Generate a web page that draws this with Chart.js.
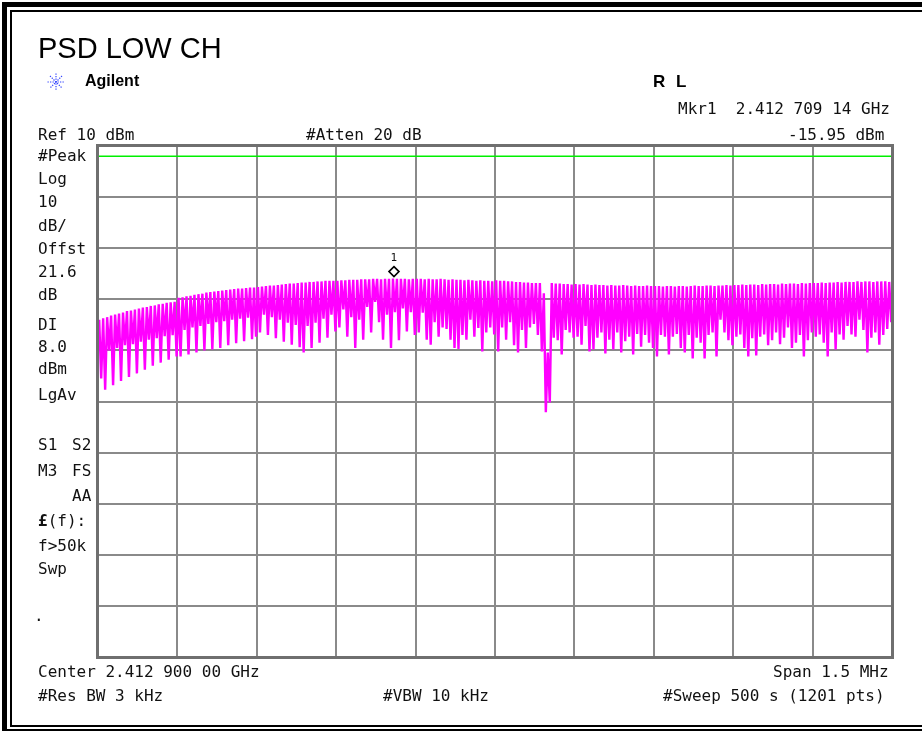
<!DOCTYPE html>
<html><head><meta charset="utf-8">
<script src="https://cdn.jsdelivr.net/npm/chart.js@4/dist/chart.umd.min.js"></script>
<style>
html,body{margin:0;padding:0;background:#fff;overflow:hidden;}
#wrap{position:relative;width:922px;height:731px;overflow:hidden;background:#fff;}
#c{position:absolute;left:0;top:0;}
.fo{position:absolute;left:2px;top:2px;width:960px;height:732px;border:5px solid #000;box-sizing:border-box;}
.fi{position:absolute;left:10px;top:10px;width:960px;height:717px;border:2px solid #000;box-sizing:border-box;}
.m{position:absolute;font-family:"DejaVu Sans Mono",monospace;font-size:16px;line-height:16px;white-space:pre;color:#111;}
.s{position:absolute;font-family:"Liberation Sans",Arial,sans-serif;white-space:pre;color:#000;}
</style>
</head><body>
<div id="wrap">
<div class="fo"></div><div class="fi"></div>
<canvas id="c" width="922" height="731"></canvas>
<div id="txt"></div>
<svg style="position:absolute;left:47px;top:73px" width="18" height="18" viewBox="0 0 18 18">
<g stroke="#3344ff" stroke-width="1.2" stroke-dasharray="1.3 1.2" fill="none">
<line x1="9" y1="0.5" x2="9" y2="17.5"/><line x1="0.5" y1="9" x2="17.5" y2="9"/>
<line x1="3" y1="3" x2="15" y2="15"/><line x1="15" y1="3" x2="3" y2="15"/>
</g></svg>
</div>
<script>
// ---- data ----
const centerGHz = 2.4129;
const spanKHz = 1500;
const refLevel = 10;          // dBm, top of grid
const dbPerDiv = 10;
const displayLine = 8.0;      // dBm
const markerFreqGHz = 2.41270914;
const markerLevel = -15.95;

// peak level of each comb line (dBm), 20 per division
const peakLevels = [
 -24.0,-23.7,-23.5,-23.2,-23.0,-22.8,-22.6,-22.3,-22.2,-22.0,-21.8,-21.6,-21.5,-21.3,-21.2,-21.0,-20.9,-20.7,-20.6,-20.5,
 -19.7,-19.6,-19.4,-19.3,-19.1,-19.0,-18.9,-18.7,-18.6,-18.5,-18.4,-18.3,-18.2,-18.1,-18.0,-17.9,-17.9,-17.8,-17.7,-17.7,
 -17.6,-17.5,-17.4,-17.3,-17.3,-17.2,-17.1,-17.0,-16.9,-16.9,-16.8,-16.7,-16.7,-16.6,-16.6,-16.5,-16.5,-16.4,-16.4,-16.4,
 -16.4,-16.3,-16.3,-16.2,-16.2,-16.2,-16.1,-16.1,-16.1,-16.0,-16.0,-16.1,-16.0,-16.0,-15.95,-16.0,-16.0,-16.0,-16.1,-16.0,
 -16.0,-16.0,-16.1,-16.0,-16.1,-16.1,-16.0,-16.1,-16.2,-16.1,-16.2,-16.2,-16.3,-16.2,-16.3,-16.4,-16.3,-16.4,-16.4,-16.5,
 -16.3,-16.4,-16.4,-16.5,-16.5,-16.6,-16.6,-16.7,-16.7,-16.8,-16.8,-16.8,-18.8,-30.4,-16.8,-16.9,-16.9,-17.0,-17.0,-17.1,
 -17.0,-17.1,-17.0,-17.1,-17.2,-17.1,-17.2,-17.2,-17.3,-17.2,-17.3,-17.3,-17.2,-17.3,-17.4,-17.3,-17.4,-17.4,-17.3,-17.4,
 -17.4,-17.4,-17.5,-17.4,-17.4,-17.5,-17.4,-17.4,-17.5,-17.4,-17.3,-17.4,-17.4,-17.3,-17.3,-17.4,-17.3,-17.3,-17.2,-17.3,
 -17.2,-17.2,-17.1,-17.2,-17.1,-17.1,-17.2,-17.0,-17.1,-17.0,-17.0,-17.1,-16.9,-17.0,-16.9,-16.9,-17.0,-16.8,-16.9,-16.8,
 -16.8,-16.8,-16.7,-16.8,-16.7,-16.7,-16.6,-16.7,-16.6,-16.6,-16.6,-16.5,-16.6,-16.5,-16.5,-16.6,-16.5,-16.5,-16.5,-16.6
];
// valley level after each comb line (dBm)
const valleyLevels = [
 -35.5,-37.7,-30.0,-36.8,-29.5,-36.0,-29.0,-35.2,-28.8,-34.5,-28.3,-33.8,-27.9,-33.0,-27.6,-32.4,-27.2,-31.8,-27.0,-31.2,
 -31.2,-26.0,-30.8,-25.5,-30.4,-25.2,-30.0,-24.8,-29.8,-24.5,-29.5,-24.3,-29.0,-24.0,-28.6,-23.8,-28.2,-23.6,-27.8,-27.3,
 -26.5,-23.0,-27.0,-23.5,-27.6,-24.0,-28.3,-24.6,-28.9,-25.0,-29.4,-30.4,-25.2,-29.5,-24.6,-28.5,-23.8,-27.5,-23.0,-26.3,
 -25.5,-22.0,-27.3,-23.5,-29.5,-24.0,-27.9,-21.5,-26.5,-20.5,-24.5,-27.9,-23.0,-29.5,-22.5,-28.0,-21.8,-26.3,-22.5,-27.0,
 -26.5,-22.6,-27.9,-28.9,-24.5,-27.3,-25.5,-25.8,-27.9,-29.5,-29.7,-27.0,-27.9,-24.0,-27.3,-25.6,-30.2,-26.5,-25.5,-26.9,
 -30.2,-25.5,-27.9,-24.5,-29.0,-30.4,-26.0,-29.5,-25.5,-24.8,-27.0,-30.2,-42.1,-40.2,-27.5,-28.0,-30.8,-26.0,-26.5,-27.5,
 -27.3,-28.9,-25.2,-30.2,-29.8,-27.5,-26.5,-30.6,-27.9,-29.8,-26.5,-30.4,-28.2,-27.3,-30.8,-26.8,-29.3,-27.0,-28.5,-29.5,
 -31.2,-27.0,-27.3,-30.8,-27.3,-26.8,-29.5,-30.4,-27.0,-31.6,-27.5,-28.5,-31.6,-27.0,-26.5,-31.2,-24.0,-26.5,-28.0,-29.0,
 -27.3,-26.9,-29.5,-31.2,-27.6,-31.0,-27.3,-26.9,-29.0,-28.0,-26.5,-28.8,-27.5,-25.5,-29.5,-28.5,-27.0,-31.2,-28.0,-26.5,
 -27.3,-26.9,-28.5,-31.2,-26.5,-29.8,-26.9,-27.9,-25.2,-26.9,-27.3,-24.0,-26.0,-30.4,-27.5,-26.5,-28.9,-27.0,-25.8,-24.5
];

// annotation texts
const leftLabels = [
 ["#Peak",161],["Log",184],["10",207],["dB/",231],["Offst",254],["21.6",277],["dB",300],
 ["DI",330],["8.0",352],["dBm",374],["LgAv",400],["S1",450],["M3",476],["f>50k",551],["Swp",574]
];
const col2Labels = [["S2",450],["FS",476],["AA",501]];
const headerTexts = [["Ref 10 dBm",38,140],["#Atten 20 dB",306,140],["Mkr1  2.412 709 14 GHz",678,114],["-15.95 dBm",788,140]];
const footerTexts = [["Center 2.412 900 00 GHz",38,677],["Span 1.5 MHz",773,677],["#Res BW 3 kHz",38,701],["#VBW 10 kHz",383,701],["#Sweep 500 s (1201 pts)",663,701]];

// ---- build ----
const txt = document.getElementById('txt');
function mono(t,x,base,html){const d=document.createElement('div');d.className='m';d.style.left=x+'px';d.style.top=(base-13.5)+'px';if(html)d.innerHTML=t;else d.textContent=t;txt.appendChild(d);return d;}
function sans(t,x,base,size,bold,extra){const d=document.createElement('div');d.className='s';d.style.left=x+'px';d.style.fontSize=size+'px';d.style.lineHeight=size+'px';d.style.top=(base-0.846*size)+'px';if(bold)d.style.fontWeight='bold';if(extra)Object.assign(d.style,extra);d.textContent=t;txt.appendChild(d);return d;}
sans("PSD LOW CH",38,59,29,false);
sans("Agilent",85,87,16,true);
sans("R L",653,87,17,true,{wordSpacing:'6px'});
leftLabels.forEach(l=>mono(l[0],38,l[1]));
col2Labels.forEach(l=>mono(l[0],72,l[1]));
mono("<b>£</b>(f):",38,526,true);
mono(".",34,621);
headerTexts.forEach(t=>mono(t[0],t[1],t[2]));
footerTexts.forEach(t=>mono(t[0],t[1],t[2]));

const half = spanKHz/2;
const toothSpacing = spanKHz/peakLevels.length;
const trace = [];
for(let i=0;i<peakLevels.length;i++){
  const f0 = -half + i*toothSpacing;
  trace.push({x:f0+toothSpacing*0.3, y:peakLevels[i]});
  trace.push({x:f0+toothSpacing*0.8, y:valleyLevels[i]});
}
const markerOffsetKHz = (markerFreqGHz-centerGHz)*1e6;

const framePlugin = {
  id:'frame',
  afterDraw(chart){
    const a=chart.chartArea, ctx=chart.ctx;
    ctx.save();ctx.strokeStyle='#6f6f6f';ctx.lineWidth=3;
    ctx.strokeRect(a.left-0.5,a.top-0.5,a.right-a.left+1,a.bottom-a.top+1);
    const x=chart.scales.x.getPixelForValue(markerOffsetKHz);
    const y=chart.scales.y.getPixelForValue(markerLevel)-7;
    ctx.fillStyle='#fff';ctx.strokeStyle='#000';ctx.lineWidth=1.6;
    ctx.beginPath();ctx.moveTo(x,y-5);ctx.lineTo(x+5,y);ctx.lineTo(x,y+5);ctx.lineTo(x-5,y);ctx.closePath();
    ctx.fill();ctx.stroke();
    ctx.restore();
    if(!chart._lbl){chart._lbl=true;const d=document.createElement('div');d.className='m';d.style.fontSize='11px';d.style.lineHeight='11px';d.style.left=(x-3.5)+'px';d.style.top=(y-20)+'px';d.textContent='1';txt.appendChild(d);}
  }
};

new Chart(document.getElementById('c'),{
  type:'line',
  data:{datasets:[
    {data:[{x:-half,y:displayLine},{x:half,y:displayLine}],borderColor:'#00f000',borderWidth:1.5,pointRadius:0},
    {data:trace,borderColor:'#ff00ff',borderWidth:2.4,pointRadius:0,tension:0,borderJoinStyle:'miter'}
  ]},
  options:{
    responsive:false,animation:false,
    layout:{padding:{left:98,top:146,right:30,bottom:74}},
    plugins:{legend:{display:false},tooltip:{enabled:false}},
    scales:{
      x:{type:'linear',min:-half,max:half,ticks:{display:false,stepSize:spanKHz/10},grid:{color:'#8a8a8a',lineWidth:2,drawTicks:false},border:{display:false}},
      y:{type:'linear',min:refLevel-10*dbPerDiv,max:refLevel,ticks:{display:false,stepSize:dbPerDiv},grid:{color:'#8a8a8a',lineWidth:2,drawTicks:false},border:{display:false}}
    }
  },
  plugins:[framePlugin]
});
</script>
</body></html>
